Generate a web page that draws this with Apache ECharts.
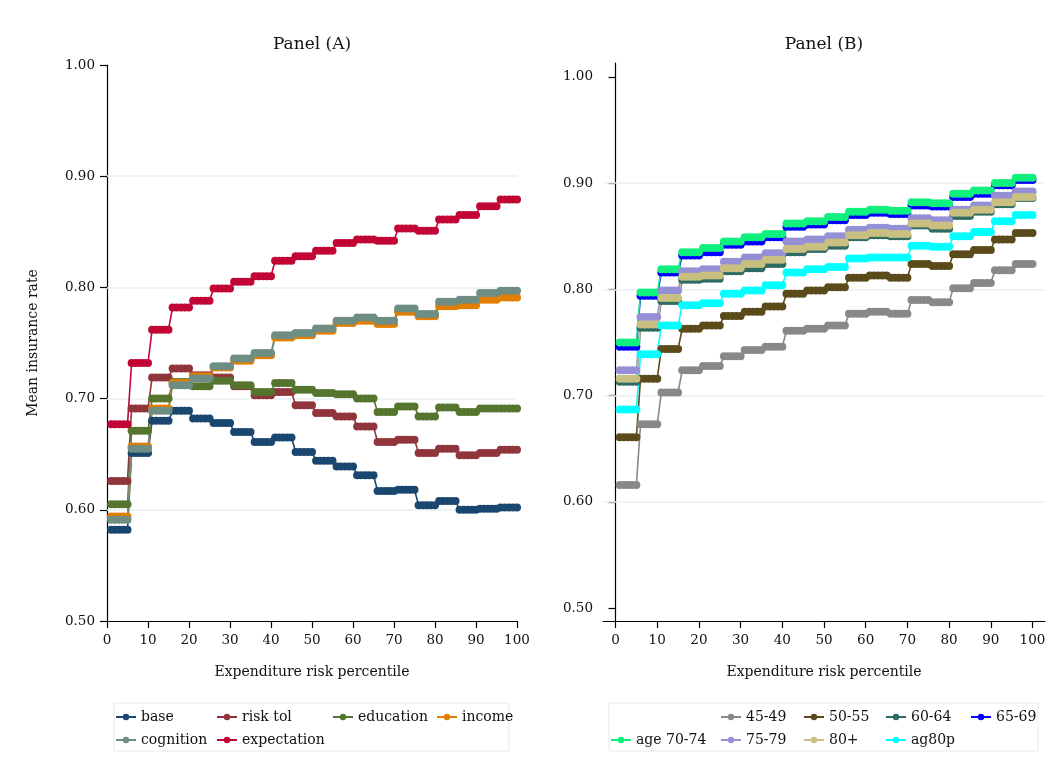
<!DOCTYPE html>
<html>
<head>
<meta charset="utf-8">
<script src="https://cdn.jsdelivr.net/npm/echarts@6/dist/echarts.min.js"></script>
<style>
  html, body { margin: 0; padding: 0; background: #fff; }
  #chart { width: 1055px; height: 771px; }
</style>
</head>
<body>
<div id="chart"></div>
<script>
// expenditure risk percentiles (x values, both panels)
const pct = [
  1, 2, 3, 4, 5, 6, 7, 8, 9, 10, 11, 12, 13, 14, 15, 16, 17, 18, 19, 20,
  21, 22, 23, 24, 25, 26, 27, 28, 29, 30, 31, 32, 33, 34, 35, 36, 37, 38, 39, 40,
  41, 42, 43, 44, 45, 46, 47, 48, 49, 50, 51, 52, 53, 54, 55, 56, 57, 58, 59, 60,
  61, 62, 63, 64, 65, 66, 67, 68, 69, 70, 71, 72, 73, 74, 75, 76, 77, 78, 79, 80,
  81, 82, 83, 84, 85, 86, 87, 88, 89, 90, 91, 92, 93, 94, 95, 96, 97, 98, 99, 100
]
const yTicks = [0.5, 0.6, 0.7, 0.8, 0.9, 1.0]
const xTicks = [0, 10, 20, 30, 40, 50, 60, 70, 80, 90, 100]
const gridVals = [0.6, 0.7, 0.8, 0.9]

// ---- Panel (A) ----
const base = [
  0.582, 0.582, 0.582, 0.582, 0.582, 0.651, 0.651, 0.651, 0.651, 0.651,
  0.680, 0.680, 0.680, 0.680, 0.680, 0.689, 0.689, 0.689, 0.689, 0.689,
  0.682, 0.682, 0.682, 0.682, 0.682, 0.678, 0.678, 0.678, 0.678, 0.678,
  0.670, 0.670, 0.670, 0.670, 0.670, 0.661, 0.661, 0.661, 0.661, 0.661,
  0.665, 0.665, 0.665, 0.665, 0.665, 0.652, 0.652, 0.652, 0.652, 0.652,
  0.644, 0.644, 0.644, 0.644, 0.644, 0.639, 0.639, 0.639, 0.639, 0.639,
  0.631, 0.631, 0.631, 0.631, 0.631, 0.617, 0.617, 0.617, 0.617, 0.617,
  0.618, 0.618, 0.618, 0.618, 0.618, 0.604, 0.604, 0.604, 0.604, 0.604,
  0.608, 0.608, 0.608, 0.608, 0.608, 0.600, 0.600, 0.600, 0.600, 0.600,
  0.601, 0.601, 0.601, 0.601, 0.601, 0.602, 0.602, 0.602, 0.602, 0.602
]
const riskTol = [
  0.626, 0.626, 0.626, 0.626, 0.626, 0.691, 0.691, 0.691, 0.691, 0.691,
  0.719, 0.719, 0.719, 0.719, 0.719, 0.727, 0.727, 0.727, 0.727, 0.727,
  0.721, 0.721, 0.721, 0.721, 0.721, 0.719, 0.719, 0.719, 0.719, 0.719,
  0.711, 0.711, 0.711, 0.711, 0.711, 0.703, 0.703, 0.703, 0.703, 0.703,
  0.706, 0.706, 0.706, 0.706, 0.706, 0.694, 0.694, 0.694, 0.694, 0.694,
  0.687, 0.687, 0.687, 0.687, 0.687, 0.684, 0.684, 0.684, 0.684, 0.684,
  0.675, 0.675, 0.675, 0.675, 0.675, 0.661, 0.661, 0.661, 0.661, 0.661,
  0.663, 0.663, 0.663, 0.663, 0.663, 0.651, 0.651, 0.651, 0.651, 0.651,
  0.655, 0.655, 0.655, 0.655, 0.655, 0.649, 0.649, 0.649, 0.649, 0.649,
  0.651, 0.651, 0.651, 0.651, 0.651, 0.654, 0.654, 0.654, 0.654, 0.654
]
const education = [
  0.605, 0.605, 0.605, 0.605, 0.605, 0.671, 0.671, 0.671, 0.671, 0.671,
  0.700, 0.700, 0.700, 0.700, 0.700, 0.715, 0.715, 0.715, 0.715, 0.715,
  0.711, 0.711, 0.711, 0.711, 0.711, 0.716, 0.716, 0.716, 0.716, 0.716,
  0.712, 0.712, 0.712, 0.712, 0.712, 0.706, 0.706, 0.706, 0.706, 0.706,
  0.714, 0.714, 0.714, 0.714, 0.714, 0.708, 0.708, 0.708, 0.708, 0.708,
  0.705, 0.705, 0.705, 0.705, 0.705, 0.704, 0.704, 0.704, 0.704, 0.704,
  0.700, 0.700, 0.700, 0.700, 0.700, 0.688, 0.688, 0.688, 0.688, 0.688,
  0.693, 0.693, 0.693, 0.693, 0.693, 0.684, 0.684, 0.684, 0.684, 0.684,
  0.692, 0.692, 0.692, 0.692, 0.692, 0.688, 0.688, 0.688, 0.688, 0.688,
  0.691, 0.691, 0.691, 0.691, 0.691, 0.691, 0.691, 0.691, 0.691, 0.691
]
const income = [
  0.594, 0.594, 0.594, 0.594, 0.594, 0.657, 0.657, 0.657, 0.657, 0.657,
  0.691, 0.691, 0.691, 0.691, 0.691, 0.714, 0.714, 0.714, 0.714, 0.714,
  0.720, 0.720, 0.720, 0.720, 0.720, 0.728, 0.728, 0.728, 0.728, 0.728,
  0.734, 0.734, 0.734, 0.734, 0.734, 0.739, 0.739, 0.739, 0.739, 0.739,
  0.755, 0.755, 0.755, 0.755, 0.755, 0.757, 0.757, 0.757, 0.757, 0.757,
  0.761, 0.761, 0.761, 0.761, 0.761, 0.768, 0.768, 0.768, 0.768, 0.768,
  0.770, 0.770, 0.770, 0.770, 0.770, 0.767, 0.767, 0.767, 0.767, 0.767,
  0.778, 0.778, 0.778, 0.778, 0.778, 0.774, 0.774, 0.774, 0.774, 0.774,
  0.783, 0.783, 0.783, 0.783, 0.783, 0.784, 0.784, 0.784, 0.784, 0.784,
  0.789, 0.789, 0.789, 0.789, 0.789, 0.791, 0.791, 0.791, 0.791, 0.791
]
const cognition = [
  0.591, 0.591, 0.591, 0.591, 0.591, 0.655, 0.655, 0.655, 0.655, 0.655,
  0.689, 0.689, 0.689, 0.689, 0.689, 0.712, 0.712, 0.712, 0.712, 0.712,
  0.718, 0.718, 0.718, 0.718, 0.718, 0.729, 0.729, 0.729, 0.729, 0.729,
  0.736, 0.736, 0.736, 0.736, 0.736, 0.741, 0.741, 0.741, 0.741, 0.741,
  0.757, 0.757, 0.757, 0.757, 0.757, 0.759, 0.759, 0.759, 0.759, 0.759,
  0.763, 0.763, 0.763, 0.763, 0.763, 0.770, 0.770, 0.770, 0.770, 0.770,
  0.773, 0.773, 0.773, 0.773, 0.773, 0.770, 0.770, 0.770, 0.770, 0.770,
  0.781, 0.781, 0.781, 0.781, 0.781, 0.776, 0.776, 0.776, 0.776, 0.776,
  0.787, 0.787, 0.787, 0.787, 0.787, 0.789, 0.789, 0.789, 0.789, 0.789,
  0.795, 0.795, 0.795, 0.795, 0.795, 0.797, 0.797, 0.797, 0.797, 0.797
]
const expectation = [
  0.677, 0.677, 0.677, 0.677, 0.677, 0.732, 0.732, 0.732, 0.732, 0.732,
  0.762, 0.762, 0.762, 0.762, 0.762, 0.782, 0.782, 0.782, 0.782, 0.782,
  0.788, 0.788, 0.788, 0.788, 0.788, 0.799, 0.799, 0.799, 0.799, 0.799,
  0.805, 0.805, 0.805, 0.805, 0.805, 0.810, 0.810, 0.810, 0.810, 0.810,
  0.824, 0.824, 0.824, 0.824, 0.824, 0.828, 0.828, 0.828, 0.828, 0.828,
  0.833, 0.833, 0.833, 0.833, 0.833, 0.840, 0.840, 0.840, 0.840, 0.840,
  0.843, 0.843, 0.843, 0.843, 0.843, 0.842, 0.842, 0.842, 0.842, 0.842,
  0.853, 0.853, 0.853, 0.853, 0.853, 0.851, 0.851, 0.851, 0.851, 0.851,
  0.861, 0.861, 0.861, 0.861, 0.861, 0.865, 0.865, 0.865, 0.865, 0.865,
  0.873, 0.873, 0.873, 0.873, 0.873, 0.879, 0.879, 0.879, 0.879, 0.879
]

// ---- Panel (B) ----
const age4549 = [
  0.616, 0.616, 0.616, 0.616, 0.616, 0.673, 0.673, 0.673, 0.673, 0.673,
  0.703, 0.703, 0.703, 0.703, 0.703, 0.724, 0.724, 0.724, 0.724, 0.724,
  0.728, 0.728, 0.728, 0.728, 0.728, 0.737, 0.737, 0.737, 0.737, 0.737,
  0.743, 0.743, 0.743, 0.743, 0.743, 0.746, 0.746, 0.746, 0.746, 0.746,
  0.761, 0.761, 0.761, 0.761, 0.761, 0.763, 0.763, 0.763, 0.763, 0.763,
  0.766, 0.766, 0.766, 0.766, 0.766, 0.777, 0.777, 0.777, 0.777, 0.777,
  0.779, 0.779, 0.779, 0.779, 0.779, 0.777, 0.777, 0.777, 0.777, 0.777,
  0.790, 0.790, 0.790, 0.790, 0.790, 0.788, 0.788, 0.788, 0.788, 0.788,
  0.801, 0.801, 0.801, 0.801, 0.801, 0.806, 0.806, 0.806, 0.806, 0.806,
  0.818, 0.818, 0.818, 0.818, 0.818, 0.824, 0.824, 0.824, 0.824, 0.824
]
const age5055 = [
  0.661, 0.661, 0.661, 0.661, 0.661, 0.716, 0.716, 0.716, 0.716, 0.716,
  0.744, 0.744, 0.744, 0.744, 0.744, 0.763, 0.763, 0.763, 0.763, 0.763,
  0.766, 0.766, 0.766, 0.766, 0.766, 0.775, 0.775, 0.775, 0.775, 0.775,
  0.779, 0.779, 0.779, 0.779, 0.779, 0.784, 0.784, 0.784, 0.784, 0.784,
  0.796, 0.796, 0.796, 0.796, 0.796, 0.799, 0.799, 0.799, 0.799, 0.799,
  0.802, 0.802, 0.802, 0.802, 0.802, 0.811, 0.811, 0.811, 0.811, 0.811,
  0.813, 0.813, 0.813, 0.813, 0.813, 0.811, 0.811, 0.811, 0.811, 0.811,
  0.824, 0.824, 0.824, 0.824, 0.824, 0.822, 0.822, 0.822, 0.822, 0.822,
  0.833, 0.833, 0.833, 0.833, 0.833, 0.837, 0.837, 0.837, 0.837, 0.837,
  0.847, 0.847, 0.847, 0.847, 0.847, 0.853, 0.853, 0.853, 0.853, 0.853
]
const age6064 = [
  0.713, 0.713, 0.713, 0.713, 0.713, 0.764, 0.764, 0.764, 0.764, 0.764,
  0.789, 0.789, 0.789, 0.789, 0.789, 0.809, 0.809, 0.809, 0.809, 0.809,
  0.810, 0.810, 0.810, 0.810, 0.810, 0.817, 0.817, 0.817, 0.817, 0.817,
  0.820, 0.820, 0.820, 0.820, 0.820, 0.824, 0.824, 0.824, 0.824, 0.824,
  0.835, 0.835, 0.835, 0.835, 0.835, 0.838, 0.838, 0.838, 0.838, 0.838,
  0.841, 0.841, 0.841, 0.841, 0.841, 0.849, 0.849, 0.849, 0.849, 0.849,
  0.851, 0.851, 0.851, 0.851, 0.851, 0.850, 0.850, 0.850, 0.850, 0.850,
  0.860, 0.860, 0.860, 0.860, 0.860, 0.857, 0.857, 0.857, 0.857, 0.857,
  0.869, 0.869, 0.869, 0.869, 0.869, 0.873, 0.873, 0.873, 0.873, 0.873,
  0.880, 0.880, 0.880, 0.880, 0.880, 0.886, 0.886, 0.886, 0.886, 0.886
]
const age6569 = [
  0.746, 0.746, 0.746, 0.746, 0.746, 0.794, 0.794, 0.794, 0.794, 0.794,
  0.816, 0.816, 0.816, 0.816, 0.816, 0.832, 0.832, 0.832, 0.832, 0.832,
  0.835, 0.835, 0.835, 0.835, 0.835, 0.842, 0.842, 0.842, 0.842, 0.842,
  0.845, 0.845, 0.845, 0.845, 0.845, 0.849, 0.849, 0.849, 0.849, 0.849,
  0.859, 0.859, 0.859, 0.859, 0.859, 0.861, 0.861, 0.861, 0.861, 0.861,
  0.865, 0.865, 0.865, 0.865, 0.865, 0.870, 0.870, 0.870, 0.870, 0.870,
  0.872, 0.872, 0.872, 0.872, 0.872, 0.871, 0.871, 0.871, 0.871, 0.871,
  0.879, 0.879, 0.879, 0.879, 0.879, 0.878, 0.878, 0.878, 0.878, 0.878,
  0.887, 0.887, 0.887, 0.887, 0.887, 0.890, 0.890, 0.890, 0.890, 0.890,
  0.898, 0.898, 0.898, 0.898, 0.898, 0.903, 0.903, 0.903, 0.903, 0.903
]
const age7074 = [
  0.750, 0.750, 0.750, 0.750, 0.750, 0.797, 0.797, 0.797, 0.797, 0.797,
  0.819, 0.819, 0.819, 0.819, 0.819, 0.835, 0.835, 0.835, 0.835, 0.835,
  0.839, 0.839, 0.839, 0.839, 0.839, 0.845, 0.845, 0.845, 0.845, 0.845,
  0.849, 0.849, 0.849, 0.849, 0.849, 0.852, 0.852, 0.852, 0.852, 0.852,
  0.862, 0.862, 0.862, 0.862, 0.862, 0.864, 0.864, 0.864, 0.864, 0.864,
  0.868, 0.868, 0.868, 0.868, 0.868, 0.873, 0.873, 0.873, 0.873, 0.873,
  0.875, 0.875, 0.875, 0.875, 0.875, 0.874, 0.874, 0.874, 0.874, 0.874,
  0.882, 0.882, 0.882, 0.882, 0.882, 0.881, 0.881, 0.881, 0.881, 0.881,
  0.890, 0.890, 0.890, 0.890, 0.890, 0.893, 0.893, 0.893, 0.893, 0.893,
  0.900, 0.900, 0.900, 0.900, 0.900, 0.905, 0.905, 0.905, 0.905, 0.905
]
const age7579 = [
  0.724, 0.724, 0.724, 0.724, 0.724, 0.774, 0.774, 0.774, 0.774, 0.774,
  0.799, 0.799, 0.799, 0.799, 0.799, 0.817, 0.817, 0.817, 0.817, 0.817,
  0.819, 0.819, 0.819, 0.819, 0.819, 0.826, 0.826, 0.826, 0.826, 0.826,
  0.830, 0.830, 0.830, 0.830, 0.830, 0.834, 0.834, 0.834, 0.834, 0.834,
  0.845, 0.845, 0.845, 0.845, 0.845, 0.847, 0.847, 0.847, 0.847, 0.847,
  0.850, 0.850, 0.850, 0.850, 0.850, 0.856, 0.856, 0.856, 0.856, 0.856,
  0.858, 0.858, 0.858, 0.858, 0.858, 0.857, 0.857, 0.857, 0.857, 0.857,
  0.867, 0.867, 0.867, 0.867, 0.867, 0.865, 0.865, 0.865, 0.865, 0.865,
  0.875, 0.875, 0.875, 0.875, 0.875, 0.879, 0.879, 0.879, 0.879, 0.879,
  0.888, 0.888, 0.888, 0.888, 0.888, 0.892, 0.892, 0.892, 0.892, 0.892
]
const age80plus = [
  0.716, 0.716, 0.716, 0.716, 0.716, 0.767, 0.767, 0.767, 0.767, 0.767,
  0.792, 0.792, 0.792, 0.792, 0.792, 0.812, 0.812, 0.812, 0.812, 0.812,
  0.813, 0.813, 0.813, 0.813, 0.813, 0.820, 0.820, 0.820, 0.820, 0.820,
  0.824, 0.824, 0.824, 0.824, 0.824, 0.828, 0.828, 0.828, 0.828, 0.828,
  0.838, 0.838, 0.838, 0.838, 0.838, 0.840, 0.840, 0.840, 0.840, 0.840,
  0.844, 0.844, 0.844, 0.844, 0.844, 0.851, 0.851, 0.851, 0.851, 0.851,
  0.853, 0.853, 0.853, 0.853, 0.853, 0.852, 0.852, 0.852, 0.852, 0.852,
  0.862, 0.862, 0.862, 0.862, 0.862, 0.860, 0.860, 0.860, 0.860, 0.860,
  0.872, 0.872, 0.872, 0.872, 0.872, 0.875, 0.875, 0.875, 0.875, 0.875,
  0.882, 0.882, 0.882, 0.882, 0.882, 0.887, 0.887, 0.887, 0.887, 0.887
]
const ag80p = [
  0.687, 0.687, 0.687, 0.687, 0.687, 0.739, 0.739, 0.739, 0.739, 0.739,
  0.766, 0.766, 0.766, 0.766, 0.766, 0.785, 0.785, 0.785, 0.785, 0.785,
  0.787, 0.787, 0.787, 0.787, 0.787, 0.796, 0.796, 0.796, 0.796, 0.796,
  0.799, 0.799, 0.799, 0.799, 0.799, 0.804, 0.804, 0.804, 0.804, 0.804,
  0.816, 0.816, 0.816, 0.816, 0.816, 0.819, 0.819, 0.819, 0.819, 0.819,
  0.821, 0.821, 0.821, 0.821, 0.821, 0.829, 0.829, 0.829, 0.829, 0.829,
  0.830, 0.830, 0.830, 0.830, 0.830, 0.830, 0.830, 0.830, 0.830, 0.830,
  0.841, 0.841, 0.841, 0.841, 0.841, 0.840, 0.840, 0.840, 0.840, 0.840,
  0.850, 0.850, 0.850, 0.850, 0.850, 0.854, 0.854, 0.854, 0.854, 0.854,
  0.864, 0.864, 0.864, 0.864, 0.864, 0.870, 0.870, 0.870, 0.870, 0.870
]

const FONT = 'DejaVu Serif'
const gridColor = '#e9f0f2'

const mkSeries = function (name, vals, color, idx) {
  return {
    name: name,
    type: 'line',
    xAxisIndex: idx,
    yAxisIndex: idx,
    z: 3,
    data: pct.map((p, i) => [p, vals[i]]),
    symbol: 'circle',
    symbolSize: 8,
    showAllSymbol: true,
    lineStyle: { color: color, width: 1.6 },
    itemStyle: { color: color },
    emphasis: { disabled: true },
  }
}

// empty series only carrying the light horizontal grid lines, drawn under the data
const gridSeries = function (idx) {
  return {
    type: 'line',
    xAxisIndex: idx,
    yAxisIndex: idx,
    z: 1,
    data: [],
    markLine: {
      z: 1,
      silent: true,
      symbol: 'none',
      label: { show: false },
      lineStyle: { color: gridColor, width: 1.5, type: 'solid' },
      emphasis: { disabled: true },
      data: gridVals.map(v => ({ yAxis: v })),
    },
  }
}

const axisLine = { show: true, lineStyle: { color: '#000', width: 1.2 } }
const axisTick = { show: true, length: 7, lineStyle: { color: '#000', width: 1.2 } }
const labelStyle = { fontFamily: FONT, fontSize: 13.5, color: '#111' }

const legendBase = {
  orient: 'vertical',
  padding: 0,
  itemGap: 7,
  itemWidth: 20,
  itemHeight: 8,
  selectedMode: false,
  textStyle: { fontFamily: FONT, fontSize: 14, color: '#111', lineHeight: 16 },
}
const legendAt = (names, left, top) => Object.assign({}, legendBase, { data: names, left: left, top: top })

const options = {
  animation: false,
  backgroundColor: '#fff',
  title: [
    { text: 'Panel (A)', left: 312, top: 36, textAlign: 'center', padding: 0,
      textStyle: { fontFamily: FONT, fontSize: 17, fontWeight: 'normal', color: '#111' } },
    { text: 'Panel (B)', left: 824, top: 36, textAlign: 'center', padding: 0,
      textStyle: { fontFamily: FONT, fontSize: 17, fontWeight: 'normal', color: '#111' } },
  ],
  grid: [
    { left: 107, top: 65, width: 410, height: 556 },
    { left: 603, top: 63, width: 442, height: 558 },
  ],
  xAxis: [
    {
      gridIndex: 0, type: 'value', min: 0, max: 100, interval: 10,
      name: 'Expenditure risk percentile', nameLocation: 'middle', nameGap: 44,
      nameTextStyle: { fontFamily: FONT, fontSize: 14, color: '#111' },
      axisLine: axisLine, axisTick: axisTick,
      axisLabel: Object.assign({ margin: 12 }, labelStyle),
      splitLine: { show: false },
    },
    {
      gridIndex: 1, type: 'value', min: -3, max: 103,
      name: 'Expenditure risk percentile', nameLocation: 'middle', nameGap: 44,
      nameTextStyle: { fontFamily: FONT, fontSize: 14, color: '#111' },
      axisLine: axisLine,
      axisTick: Object.assign({ customValues: xTicks }, axisTick),
      axisLabel: Object.assign({ margin: 12, customValues: xTicks }, labelStyle),
      splitLine: { show: false },
    },
  ],
  yAxis: [
    {
      gridIndex: 0, type: 'value', min: 0.5, max: 1.0, interval: 0.1,
      name: 'Mean insurance rate', nameLocation: 'middle', nameGap: 67, nameRotate: 90,
      nameTextStyle: { fontFamily: FONT, fontSize: 14, color: '#111' },
      axisLine: axisLine, axisTick: axisTick,
      axisLabel: Object.assign({ margin: 12, formatter: v => v.toFixed(2) }, labelStyle),
      splitLine: { show: false },
    },
    {
      gridIndex: 1, type: 'value', min: 0.488, max: 1.013,
      axisLine: axisLine,
      axisTick: Object.assign({ customValues: yTicks }, axisTick),
      axisLabel: Object.assign({ margin: 10, customValues: yTicks, formatter: v => v.toFixed(2) }, labelStyle),
      splitLine: { show: false },
    },
  ],
  legend: [
    legendAt(['base', 'cognition'], 115, 709),
    legendAt(['risk tol', 'expectation'], 216, 709),
    legendAt(['education'], 332, 709),
    legendAt(['income'], 436, 709),
    legendAt(['age 70-74'], 610, 732),
    legendAt(['45-49', '75-79'], 720, 709),
    legendAt(['50-55', '80+'], 803, 709),
    legendAt(['60-64', 'ag80p'], 885, 709),
    legendAt(['65-69'], 970, 709),
  ],
  graphic: [
    { type: 'rect', shape: { x: 114, y: 703, width: 395, height: 48 },
      style: { fill: 'none', stroke: '#e2ebee', lineWidth: 1 }, silent: true },
    { type: 'rect', shape: { x: 609, y: 703, width: 429, height: 48 },
      style: { fill: 'none', stroke: '#e2ebee', lineWidth: 1 }, silent: true },
  ],
  series: [
    gridSeries(0),
    mkSeries('base', base, '#1a476f', 0),
    mkSeries('risk tol', riskTol, '#90353b', 0),
    mkSeries('education', education, '#55752f', 0),
    mkSeries('income', income, '#e37e00', 0),
    mkSeries('cognition', cognition, '#6e8e84', 0),
    mkSeries('expectation', expectation, '#c10534', 0),
    gridSeries(1),
    mkSeries('45-49', age4549, '#888888', 1),
    mkSeries('50-55', age5055, '#5b4a1a', 1),
    mkSeries('60-64', age6064, '#2e6b63', 1),
    mkSeries('65-69', age6569, '#0000ff', 1),
    mkSeries('age 70-74', age7074, '#10f07e', 1),
    mkSeries('75-79', age7579, '#9590d6', 1),
    mkSeries('80+', age80plus, '#c9bf80', 1),
    mkSeries('ag80p', ag80p, '#00ffff', 1),
  ],
}

const thisChart = echarts.init(document.getElementById('chart'), null, { renderer: 'canvas' })
thisChart.setOption(options)
</script>
</body>
</html>
